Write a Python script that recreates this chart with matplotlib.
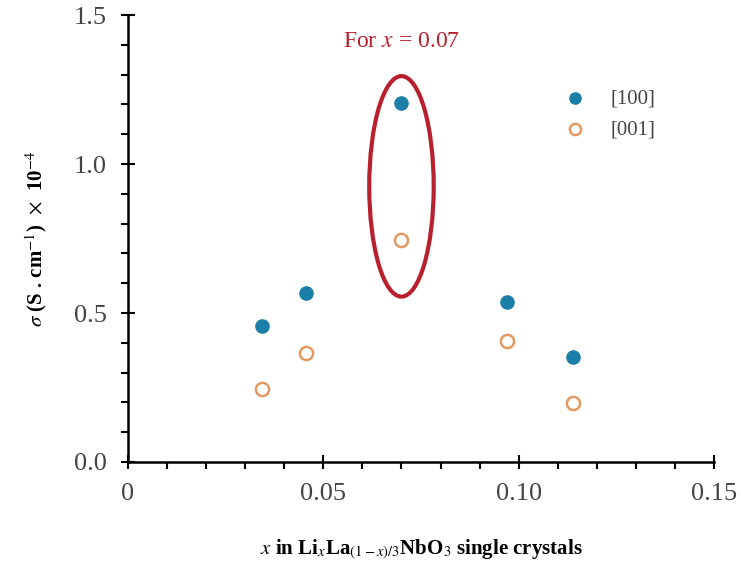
import matplotlib.pyplot as plt
from matplotlib.patches import Ellipse
from matplotlib.ticker import MultipleLocator

plt.rcParams['font.family'] = ['Liberation Serif', 'DejaVu Serif']
plt.rcParams['mathtext.fontset'] = 'stix'

# data
x_vals = [0.0343, 0.0456, 0.0700, 0.0970, 0.1140]
sigma_100 = [0.456, 0.567, 1.205, 0.537, 0.352]
sigma_001 = [0.245, 0.366, 0.745, 0.406, 0.198]
x_ticks = [0, 0.05, 0.10, 0.15]
x_tick_labels = ['0', '0.05', '0.10', '0.15']
y_ticks = [0.0, 0.5, 1.0, 1.5]
y_tick_labels = ['0.0', '0.5', '1.0', '1.5']

blue = '#1a7ea6'
orange = '#e39a62'
red = '#b8202e'

fig = plt.figure(figsize=(7.41, 5.67), dpi=100)
ax = fig.add_axes([0.1727, 0.1852, 0.7909, 0.7883])

ax.scatter(x_vals, sigma_100, s=90, color=blue, edgecolors=blue, zorder=3, label='[100]')
ax.scatter(x_vals, sigma_001, s=90, facecolors='white', edgecolors=orange,
           linewidths=1.8, zorder=3, label='[001]')

# highlight for x = 0.07
ax.add_patch(Ellipse((0.0700, 0.925), 0.0165, 0.74, fill=False,
                     edgecolor=red, linewidth=3, zorder=2))
ax.text(0.0700, 1.41, 'For $x$ = 0.07', color=red, fontsize=17,
        ha='center', va='center')

ax.set_xlim(0, 0.15)
ax.set_ylim(0, 1.5)
ax.set_xticks(x_ticks)
ax.set_xticklabels(x_tick_labels)
ax.set_yticks(y_ticks)
ax.set_yticklabels(y_tick_labels)
ax.xaxis.set_minor_locator(MultipleLocator(0.01))
ax.yaxis.set_minor_locator(MultipleLocator(0.1))
ax.tick_params(which='major', direction='inout', length=10, width=1.5,
               labelsize=19, labelcolor='#444444', pad=10)
ax.tick_params(which='minor', direction='out', length=5, width=1.5)

for side in ['top', 'right']:
    ax.spines[side].set_visible(False)
for side in ['left', 'bottom']:
    ax.spines[side].set_linewidth(1.8)

ax.set_xlabel(r'$\mathbf{\mathit{x}}$ in Li$_\mathit{x}$La$_{(1-x)/3}$NbO$_3$ single crystals',
              fontsize=15, fontweight='bold', labelpad=24)
ax.set_ylabel(r'$\mathit{\sigma}$ (S . cm$^{-1}$)  $\times$  10$^{-4}$',
              fontsize=15, fontweight='bold', labelpad=18)

ax.legend(loc='upper left', bbox_to_anchor=(0.695, 0.876), frameon=False,
          fontsize=15, labelcolor='#444444', handletextpad=0.7,
          labelspacing=0.55, scatterpoints=1, markerscale=0.85)

fig.savefig('out.png', dpi=100)
